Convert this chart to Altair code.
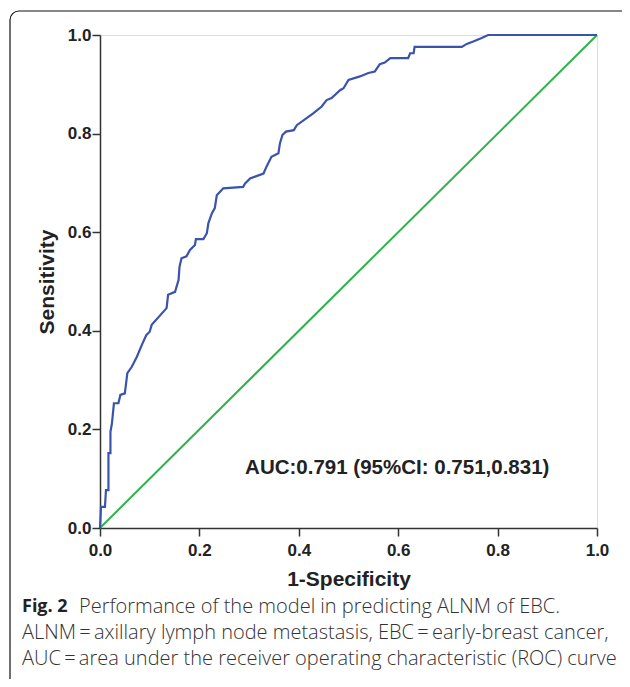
import altair as alt
import pandas as pd

fpr = [0, 0.002, 0.01, 0.012, 0.017, 0.017, 0.021, 0.021, 0.024, 0.028, 0.037, 0.041, 0.05,
       0.055, 0.064, 0.074, 0.084, 0.093, 0.1, 0.104, 0.134, 0.137, 0.151, 0.158, 0.16, 0.164,
       0.174, 0.181, 0.191, 0.193, 0.208, 0.215, 0.218, 0.225, 0.231, 0.235, 0.248, 0.288,
       0.292, 0.302, 0.329, 0.335, 0.345, 0.359, 0.362, 0.367, 0.374, 0.39, 0.396, 0.429,
       0.446, 0.456, 0.466, 0.483, 0.49, 0.5, 0.523, 0.54, 0.553, 0.563, 0.573, 0.584, 0.62,
       0.624, 0.631, 0.633, 0.728, 0.738, 0.751, 0.768, 0.781, 1.0]
tpr = [0, 0.043, 0.043, 0.077, 0.077, 0.152, 0.152, 0.195, 0.212, 0.253, 0.253, 0.27, 0.273,
       0.314, 0.327, 0.347, 0.371, 0.391, 0.398, 0.412, 0.446, 0.473, 0.479, 0.503, 0.53, 0.547,
       0.551, 0.564, 0.574, 0.586, 0.586, 0.598, 0.618, 0.638, 0.649, 0.675, 0.689, 0.692,
       0.699, 0.709, 0.719, 0.733, 0.753, 0.76, 0.78, 0.797, 0.804, 0.807, 0.817, 0.841,
       0.855, 0.868, 0.872, 0.888, 0.892, 0.909, 0.916, 0.923, 0.926, 0.941, 0.944, 0.953, 0.953,
       0.963, 0.963, 0.976, 0.976, 0.982, 0.987, 0.994, 1.0, 1.0]
diag_x = [0, 1]
diag_y = [0, 1]
ticks = [0, 0.2, 0.4, 0.6, 0.8, 1.0]
auc_text = "AUC:0.791 (95%CI: 0.751,0.831)"
caption_bold = "Fig. 2"
caption_lines = [
    "Performance of the model in predicting ALNM of EBC.",
    "ALNM\u2009=\u2009axillary lymph node metastasis, EBC\u2009=\u2009early-breast cancer,",
    "AUC\u2009=\u2009area under the receiver operating characteristic (ROC) curve",
]

roc = pd.DataFrame({"x": fpr, "y": tpr, "o": range(len(fpr))})
diag = pd.DataFrame({"x": diag_x, "y": diag_y})

W, H = 497, 493

xs = alt.Scale(domain=[0, 1], nice=False, zero=False)
ys = alt.Scale(domain=[0, 1], nice=False, zero=False)

common = dict(values=ticks, format=".1f", grid=False,
              labelFont="Liberation Sans", labelFontWeight="bold", labelFontSize=17,
              labelColor="#222", titleFont="Liberation Sans", titleFontWeight="bold",
              titleFontSize=21, titleColor="#222",
              tickSize=8, tickColor="#333", tickWidth=1.5, domainColor="#333", domainWidth=1.5,
              labelFlush=False)
xaxis = alt.Axis(title="1-Specificity", titlePadding=10, labelPadding=6, **common)
yaxis = alt.Axis(title="Sensitivity", titlePadding=10, labelPadding=1, **common)

diag_line = alt.Chart(diag).mark_line(color="#2eb34a", strokeWidth=2).encode(
    x=alt.X("x:Q", scale=xs, axis=xaxis),
    y=alt.Y("y:Q", scale=ys, axis=yaxis),
)
roc_line = alt.Chart(roc).mark_line(color="#3a53ad", strokeWidth=2.2).encode(
    x=alt.X("x:Q", scale=xs),
    y=alt.Y("y:Q", scale=ys),
    order="o:Q",
)
auc = alt.Chart(pd.DataFrame({"x": [0.292], "y": [0.122], "t": [auc_text]})).mark_text(
    align="left", baseline="middle", font="Liberation Sans", fontWeight="bold",
    fontSize=20.5, color="#222"
).encode(x=alt.X("x:Q", scale=xs), y=alt.Y("y:Q", scale=ys), text="t:N")

one = alt.Data(values=[{"a": 1}])
border = alt.Chart(one).mark_rect(fill=None, stroke="#111", strokeWidth=1.2, cornerRadius=9).encode(
    x=alt.value(-90), x2=alt.value(533), y=alt.value(-24), y2=alt.value(657)
)

cap_font = "Open Sans"
cap_bold = alt.Chart(one).mark_text(
    align="left", baseline="middle", font=cap_font, fontWeight="bold", fontSize=18, color="#222"
).encode(x=alt.value(-78), y=alt.value(572), text=alt.value(caption_bold))
cap_layers = []
for i, (line, xoff) in enumerate(zip(caption_lines, [-21, -78, -78])):
    cap_layers.append(
        alt.Chart(one).mark_text(
            align="left", baseline="middle", font=cap_font, fontWeight=300,
            fontSize=20, color="#333"
        ).encode(x=alt.value(xoff), y=alt.value(572 + 26 * i), text=alt.value(line))
    )

chart = alt.layer(diag_line, roc_line, auc, border, cap_bold, *cap_layers).properties(
    width=W, height=H,
    autosize=alt.AutoSizeParams(type="none"),
    padding={"left": 92, "top": 27, "right": 25, "bottom": 151},
).configure_view(stroke="#888", strokeWidth=1.5).configure(background="white")

chart.save("out.html", embed_options={"renderer": "svg", "actions": False})
